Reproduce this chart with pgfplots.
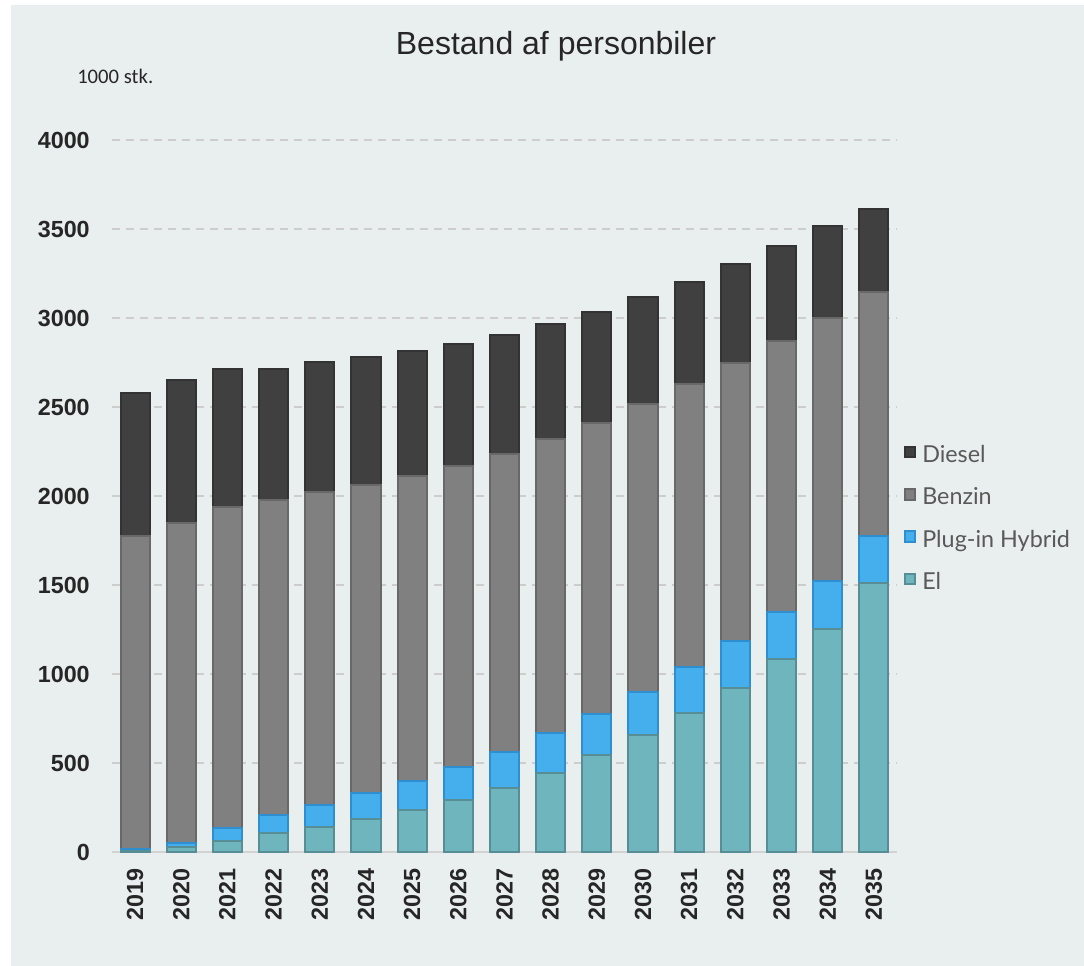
\documentclass[border=0pt]{standalone}
\usepackage{fontspec}
\setmainfont{Liberation Sans}
\newfontfamily\carlito{Carlito}
\newfontfamily\lato{Lato}
\usepackage{pgfplots}
\pgfplotsset{compat=1.18}
\usepackage{pgfplotstable}
\definecolor{bg}{HTML}{E9EFEE}
\definecolor{dieselc}{HTML}{404040}
\definecolor{dieseld}{HTML}{333333}
\definecolor{benzinc}{HTML}{808080}
\definecolor{benzind}{HTML}{686868}
\definecolor{phevc}{HTML}{45AFEE}
\definecolor{phevd}{HTML}{2E8ED0}
\definecolor{elc}{HTML}{6FB5BD}
\definecolor{eld}{HTML}{578E95}
\definecolor{tickc}{HTML}{262626}
\definecolor{legc}{HTML}{595959}
\definecolor{gridc}{HTML}{CDCDCD}
\definecolor{basec}{HTML}{D2D2D2}

\pgfplotstableread{
x year el phev benzin diesel
0 2019 8 11 1758 803
1 2020 26 24 1797 805
2 2021 60 77 1800 775
3 2022 105 103 1770 734
4 2023 142 122 1760 727
5 2024 184 145 1733 719
6 2025 236 165 1711 703
7 2026 292 187 1690 685
8 2027 360 204 1670 670
9 2028 446 221 1651 648
10 2029 543 232 1637 622
11 2030 657 244 1614 601
12 2031 779 262 1586 577
13 2032 923 264 1558 556
14 2033 1082 268 1523 531
15 2034 1251 271 1480 515
16 2035 1510 265 1373 464
}\data

\begin{document}
\begin{tikzpicture}
\fill[white] (0,0) rectangle (813pt,-724.5pt);
\fill[bg] (8.25pt,-3.75pt) rectangle (813pt,-724.5pt);
\useasboundingbox (0,0) rectangle (813pt,-724.5pt);
\node[font=\fontsize{24}{28}\selectfont, text=tickc] at (417pt,-35pt) {Bestand af personbiler};
\node[font=\carlito\fontsize{15.5}{18}\selectfont, anchor=west, inner sep=0pt, text=tickc] at (57.75pt,-57pt) {1000 stk.};
\begin{axis}[
  at={(84pt,-639pt)}, anchor=south west,
  scale only axis, width=588.75pt, height=534pt,
  ybar stacked, bar width=0.63,
  xmin=-0.5, xmax=16.5, ymin=0, ymax=4000,
  xtick={0,...,16},
  xticklabels={2019,2020,2021,2022,2023,2024,2025,2026,2027,2028,2029,2030,2031,2032,2033,2034,2035},
  ytick={0,500,...,4000},
  /pgf/number format/assume math mode=true,
  /pgf/number format/1000 sep={},
  axis line style={draw=none},
  major tick length=0pt,
  ymajorgrids,
  major grid style={draw=gridc, line width=1.1pt, dash pattern=on 6.25pt off 4.25pt},
  extra y ticks={0}, extra y tick labels={},
  extra y tick style={major grid style={draw=basec, line width=1.1pt, solid}},
  yticklabel style={font=\bfseries\fontsize{17.5}{21}\selectfont, text=tickc, inner sep=0pt, anchor=east, xshift=-16.5pt},
  xticklabel style={font=\bfseries\fontsize{17.5}{21}\selectfont, text=tickc, inner sep=0pt, yshift=-12pt, rotate=90, anchor=east},
  reverse legend,
  legend cell align=left,
  legend image code/.code={\draw[#1,line width=1.5pt] (0.75pt,-0.25pt) rectangle (8.25pt,7.75pt);},
  legend style={at={(1.0089,0.466)}, anchor=west, draw=none, fill=none, inner sep=0pt,
    font=\lato\fontsize{17.5}{20}\selectfont, text=legc, row sep=15pt,
    nodes={inner sep=0pt, text height=12.5pt, text depth=4pt},
    /tikz/every odd column/.append style={column sep=4.5pt}},
]
\addplot[fill=elc, draw=eld, line width=1.5pt] table[x=x,y=el]{\data};
\addplot[fill=phevc, draw=phevd, line width=1.5pt] table[x=x,y=phev]{\data};
\addplot[fill=benzinc, draw=benzind, line width=1.5pt] table[x=x,y=benzin]{\data};
\addplot[fill=dieselc, draw=dieseld, line width=1.5pt] table[x=x,y=diesel]{\data};
\legend{El,Plug-in Hybrid,Benzin,Diesel}
\end{axis}
\end{tikzpicture}
\end{document}
